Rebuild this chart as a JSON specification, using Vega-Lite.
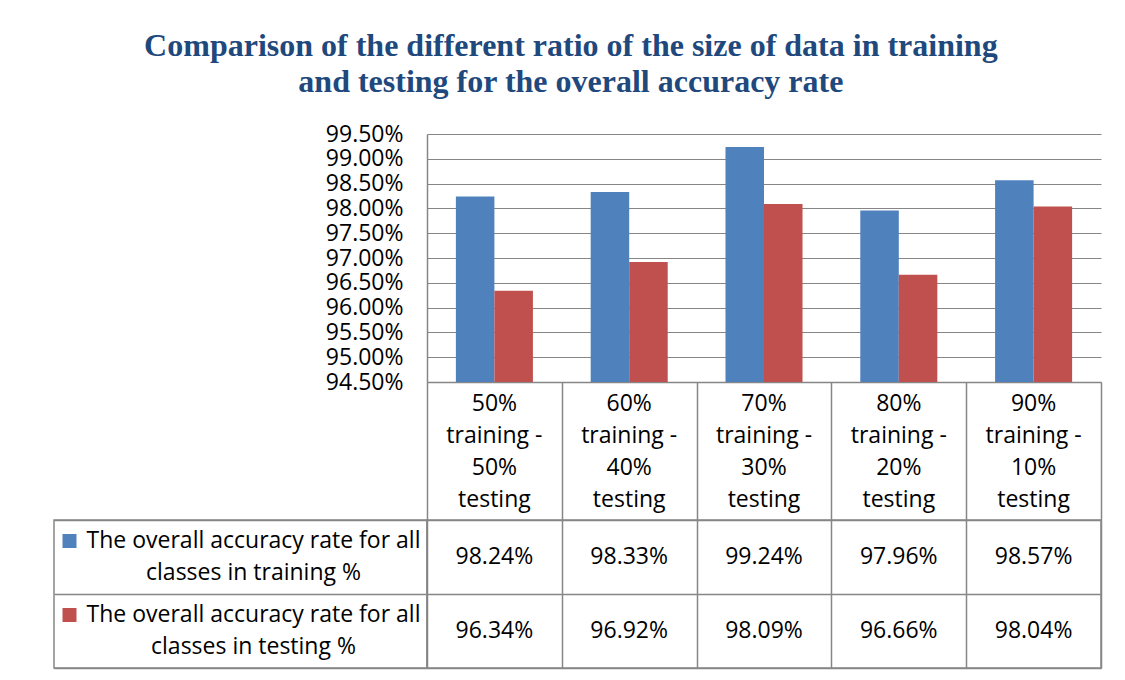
{
  "$schema": "https://vega.github.io/schema/vega-lite/v6.json",
  "background": "white",
  "padding": {"left": 53, "top": 30, "right": 5, "bottom": 5},
  "title": {
    "text": ["Comparison of the different ratio of the size of data in training", "and testing for the overall accuracy rate"],
    "font": "Liberation Serif",
    "fontSize": 32,
    "fontWeight": "bold",
    "color": "#1F497D",
    "anchor": "middle",
    "lineHeight": 36,
    "offset": 24,
    "dx": -7
  },
  "datasets": {
    "bars": [
      {"ratio": "50%|training -|50%|testing", "series": "train", "value": 0.9824},
      {"ratio": "50%|training -|50%|testing", "series": "test", "value": 0.9634},
      {"ratio": "60%|training -|40%|testing", "series": "train", "value": 0.9833},
      {"ratio": "60%|training -|40%|testing", "series": "test", "value": 0.9692},
      {"ratio": "70%|training -|30%|testing", "series": "train", "value": 0.9924},
      {"ratio": "70%|training -|30%|testing", "series": "test", "value": 0.9809},
      {"ratio": "80%|training -|20%|testing", "series": "train", "value": 0.9796},
      {"ratio": "80%|training -|20%|testing", "series": "test", "value": 0.9666},
      {"ratio": "90%|training -|10%|testing", "series": "train", "value": 0.9857},
      {"ratio": "90%|training -|10%|testing", "series": "test", "value": 0.9804}
    ],
    "rows": [
      {"series": "train", "label": "The overall accuracy rate for all\nclasses in training %"},
      {"series": "test", "label": "The overall accuracy rate for all\nclasses in testing %"}
    ]
  },
  "columns": 2,
  "spacing": {"row": 138, "column": 0},
  "bounds": "flush",
  "align": "each",
  "resolve": {"scale": {"x": "independent", "y": "independent"}},
  "concat": [
    {
      "width": 373,
      "height": 248,
      "view": {"stroke": null},
      "data": {"values": []},
      "mark": "text",
      "encoding": {}
    },
    {
      "width": 674,
      "height": 248,
      "view": {"stroke": null},
      "data": {"name": "bars"},
      "mark": {"type": "bar", "clip": true},
      "encoding": {
        "x": {
          "field": "ratio", "type": "nominal", "sort": null,
          "scale": {"paddingInner": 0, "paddingOuter": 0},
          "axis": {
            "title": null, "labelExpr": "split(datum.label, '|')", "labelAngle": 0,
            "labelFont": "Open Sans", "labelFontSize": 23, "labelLineHeight": 32,
            "labelColor": "black", "labelPadding": 10, "labelBaseline": "top", "labelOverlap": false,
            "ticks": false, "domain": true, "domainColor": "#868686", "domainWidth": 1.5, "grid": false
          }
        },
        "xOffset": {
          "field": "series", "type": "nominal", "sort": ["train", "test"],
          "scale": {"paddingInner": 0, "paddingOuter": 0.75}
        },
        "y": {
          "field": "value", "type": "quantitative",
          "scale": {"domain": [0.945, 0.995], "zero": false, "nice": false},
          "axis": {
            "title": null, "format": ".2%",
            "values": [0.945, 0.95, 0.955, 0.96, 0.965, 0.97, 0.975, 0.98, 0.985, 0.99, 0.995],
            "labelFont": "Open Sans", "labelFontSize": 23, "labelColor": "black",
            "labelPadding": 24, "labelOverlap": false, "ticks": false,
            "domainColor": "#868686", "domainWidth": 1.5,
            "grid": true, "gridColor": "#868686", "gridWidth": 1
          }
        },
        "color": {
          "field": "series", "type": "nominal",
          "scale": {"domain": ["train", "test"], "range": ["#4F81BD", "#C0504D"]},
          "legend": null
        }
      }
    },
    {
      "width": 373,
      "height": 148,
      "data": {"name": "rows"},
      "encoding": {
        "y": {
          "field": "series", "type": "nominal", "sort": ["train", "test"],
          "scale": {"paddingInner": 0, "paddingOuter": 0},
          "axis": {
            "title": null, "labels": false, "ticks": false, "domain": false,
            "grid": true, "tickBand": "extent", "gridColor": "#868686", "gridWidth": 1.5
          }
        }
      },
      "layer": [
        {
          "mark": {"type": "text", "font": "Open Sans", "fontSize": 23, "lineBreak": "\n", "lineHeight": 32, "dx": 13, "dy": -16, "color": "black"},
          "encoding": {"text": {"field": "label"}}
        },
        {
          "mark": {"type": "point", "shape": "square", "filled": true, "opacity": 1, "size": 196, "xOffset": -171, "yOffset": -16},
          "encoding": {
            "color": {
              "field": "series", "type": "nominal",
              "scale": {"domain": ["train", "test"], "range": ["#4F81BD", "#C0504D"]},
              "legend": null
            }
          }
        }
      ]
    },
    {
      "width": 674,
      "height": 148,
      "data": {"name": "bars"},
      "mark": {"type": "text", "font": "Open Sans", "fontSize": 23, "color": "black"},
      "encoding": {
        "x": {
          "field": "ratio", "type": "nominal", "sort": null,
          "scale": {"paddingInner": 0, "paddingOuter": 0},
          "axis": {
            "orient": "top", "title": null, "labels": false,
            "ticks": true, "tickSize": 138, "tickBand": "extent", "tickColor": "#868686", "tickWidth": 1.5,
            "domain": false, "grid": true, "gridColor": "#868686", "gridWidth": 1.5
          }
        },
        "y": {
          "field": "series", "type": "nominal", "sort": ["train", "test"],
          "scale": {"paddingInner": 0, "paddingOuter": 0},
          "axis": {
            "title": null, "labels": false, "ticks": false, "domain": false,
            "grid": true, "tickBand": "extent", "gridColor": "#868686", "gridWidth": 1.5
          }
        },
        "text": {"field": "value", "type": "quantitative", "format": ".2%"}
      }
    }
  ],
  "config": {
    "view": {"stroke": "#868686", "strokeWidth": 1.5},
    "font": "Open Sans"
  }
}
